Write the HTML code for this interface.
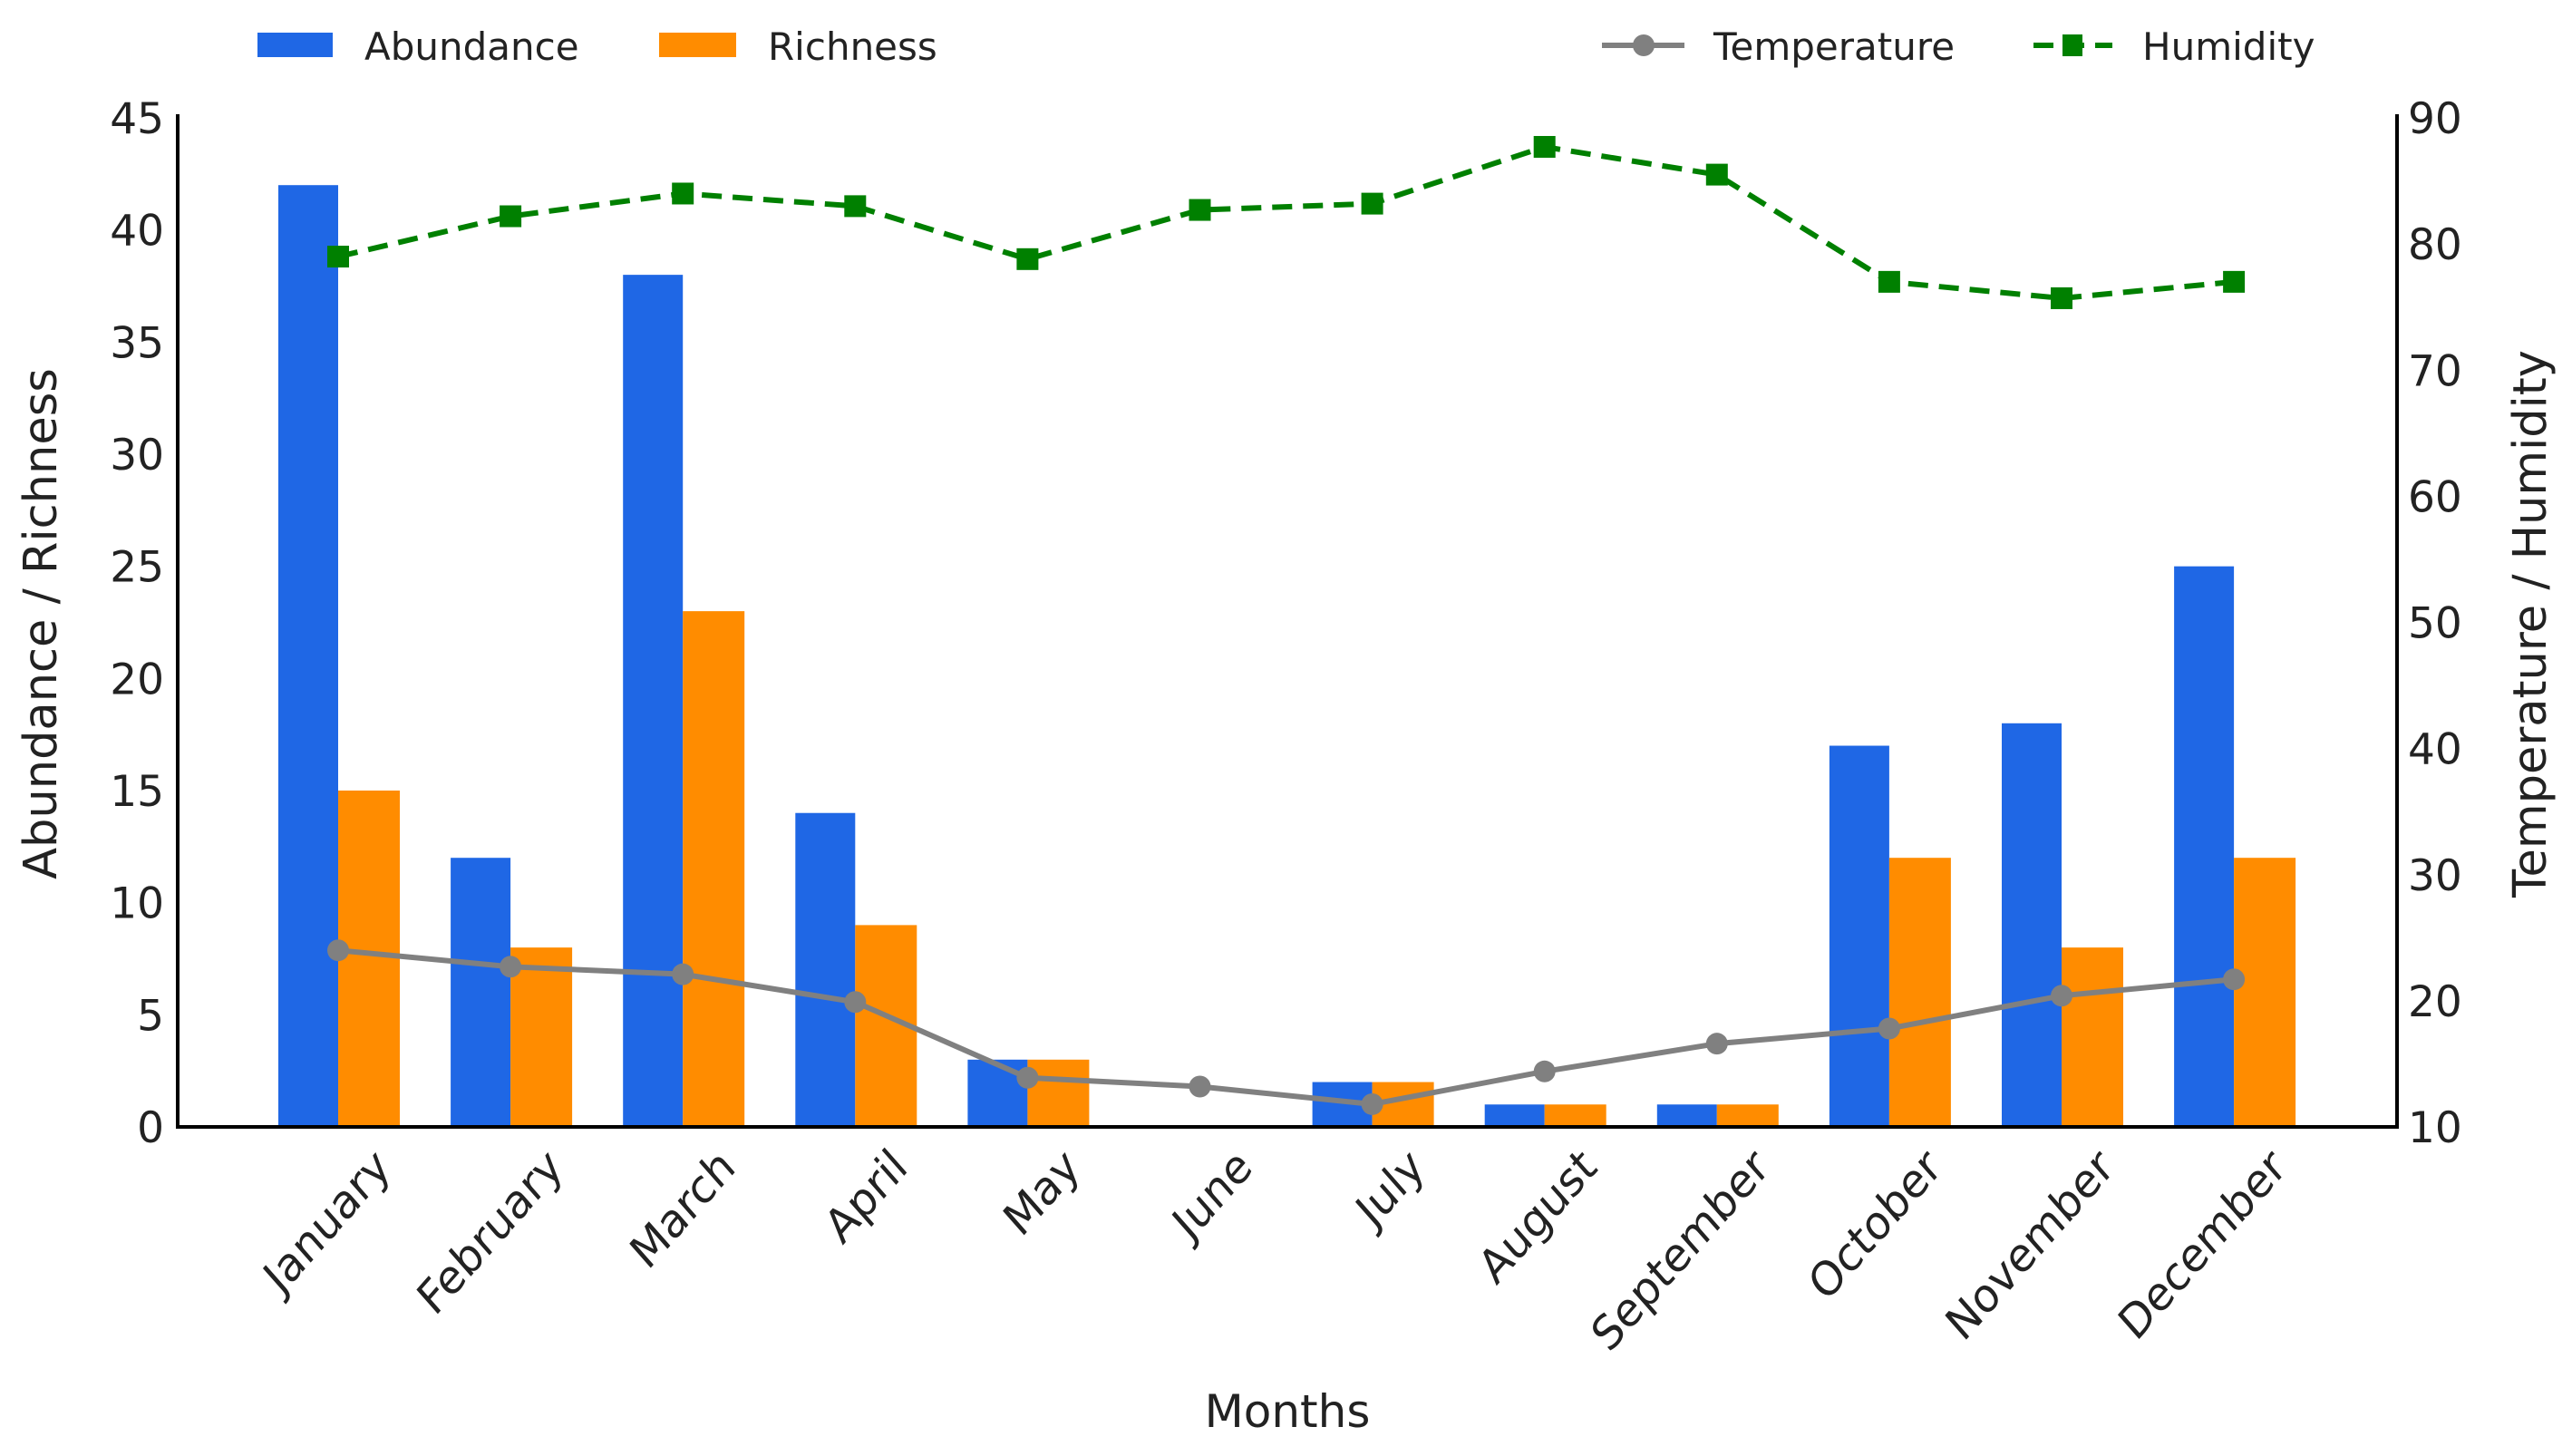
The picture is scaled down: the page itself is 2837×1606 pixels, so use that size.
<!DOCTYPE html>
<html><head><meta charset="utf-8"><style>
html,body{margin:0;padding:0;background:#fff;}
svg{display:block;font-family:"DejaVu Sans","Liberation Sans",sans-serif;}
</style></head><body>
<svg id="chart" width="2837" height="1606" viewBox="0 0 2837 1606" xmlns="http://www.w3.org/2000/svg">
<rect width="2837" height="1606" fill="#fff"/>
<g id="legend">
  <g>
    <rect x="284" y="36" width="83" height="27" fill="#1f67e5"/>
    <text x="402" y="66" font-size="42" fill="#222">Abundance</text>
  </g>
  <g>
    <rect x="727" y="36" width="85" height="27" fill="#ff8c00"/>
    <text x="847" y="66" font-size="42" fill="#222">Richness</text>
  </g>
  <g>
    <line x1="1767" y1="50" x2="1858" y2="50" stroke="#808080" stroke-width="6"/>
    <circle cx="1813" cy="50" r="12" fill="#808080"/>
    <text x="1890" y="66" font-size="42" fill="#222">Temperature</text>
  </g>
  <g>
    <line x1="2243" y1="50" x2="2330" y2="50" stroke="#008000" stroke-width="6" stroke-dasharray="22,12"/>
    <rect x="2275" y="38" width="22" height="24" fill="#008000"/>
    <text x="2363" y="66" font-size="42" fill="#222">Humidity</text>
  </g>
</g>
<g id="plot"></g>
<text font-size="51" fill="#222" text-anchor="middle" transform="translate(62,688) rotate(-90)">Abundance / Richness</text>
<text font-size="51" fill="#222" text-anchor="middle" transform="translate(2808,688) rotate(-90)">Temperature / Humidity</text>
<text font-size="50" fill="#222" text-anchor="middle" x="1420" y="1574">Months</text>
</svg>
<script>
const months = ["January","February","March","April","May","June","July","August","September","October","November","December"];
const abundance = [42,12,38,14,3,0,2,1,1,17,18,25];
const richness = [15,8,23,9,3,0,2,1,1,12,8,12];
const temperature = [24.0,22.7,22.1,19.9,13.9,13.2,11.8,14.4,16.6,17.8,20.4,21.7];
const humidity = [79.0,82.2,84.0,83.0,78.8,82.7,83.2,87.7,85.5,77.0,75.7,77.0];
const leftTicks = [0,5,10,15,20,25,30,35,40,45];
const rightTicks = [10,20,30,40,50,60,70,80,90];

const NS = "http://www.w3.org/2000/svg";
const X0 = 196, X1 = 2644, YB = 1243, YT = 130;
const step = 190.1, first = 373, bw = 66;
const xC = i => first + i * step;
const yL = v => YB - (v / 45) * (YB - YT);
const yR = v => YB - ((v - 10) / 80) * (YB - YT);
const plot = document.getElementById('plot');
function mk(tag, attrs, parent) {
  const e = document.createElementNS(NS, tag);
  for (const k in attrs) e.setAttribute(k, attrs[k]);
  (parent || plot).appendChild(e);
  return e;
}
months.forEach((m, i) => {
  const a = mk('rect', {x: xC(i) - bw, y: yL(abundance[i]), width: bw, height: YB - yL(abundance[i]), fill: '#1f67e5'});
  
  
  const r = mk('rect', {x: xC(i), y: yL(richness[i]), width: bw + 2, height: YB - yL(richness[i]), fill: '#ff8c00'});
  
  
});
const ax = mk('path', {d: `M${X0},${YT-4} L${X0},${YB} L${X1},${YB} L${X1},${YT-4}`, fill: 'none', stroke: '#000', 'stroke-width': 4});


leftTicks.forEach(v => {
  const t = mk('text', {x: 181, y: yL(v) + 17, 'font-size': 47, 'text-anchor': 'end', fill: '#222'});
  t.textContent = v;
  
  
});
rightTicks.forEach(v => {
  const t = mk('text', {x: 2656, y: yR(v) + 17, 'font-size': 47, 'text-anchor': 'start', fill: '#222'});
  t.textContent = v;
  
  
});
months.forEach((m, i) => {
  const t = mk('text', {'font-size': 52, 'text-anchor': 'end', fill: '#222', transform: `translate(${xC(i)+60},${1290}) scale(0.88,1) rotate(-45)`});
  t.textContent = m;
  
  
});
const tp = mk('polyline', {points: temperature.map((v, i) => xC(i) + ',' + yR(v)).join(' '), fill: 'none', stroke: '#808080', 'stroke-width': 6});


temperature.forEach((v, i) => {
  const c = mk('circle', {cx: xC(i), cy: yR(v), r: 12, fill: '#808080'});
  
  
});
const hp = mk('polyline', {points: humidity.map((v, i) => xC(i) + ',' + yR(v)).join(' '), fill: 'none', stroke: '#008000', 'stroke-width': 6, 'stroke-dasharray': '22,12'});


humidity.forEach((v, i) => {
  const s = mk('rect', {x: xC(i) - 12, y: yR(v) - 12, width: 24, height: 24, fill: '#008000'});
  
  
});
</script>
</body></html>
